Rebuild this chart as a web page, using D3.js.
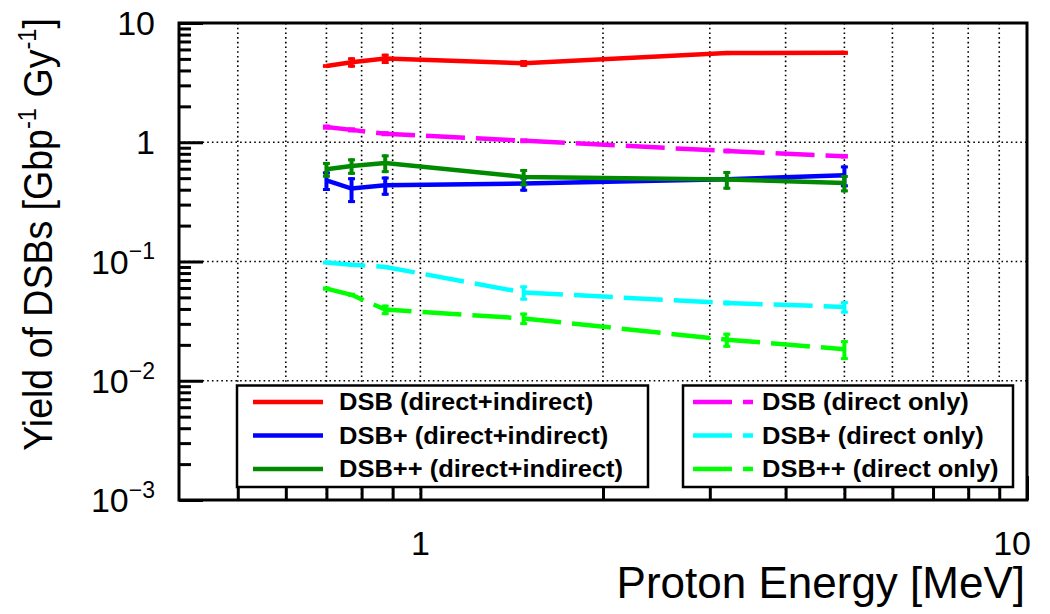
<!DOCTYPE html>
<html>
<head>
<meta charset="utf-8">
<script src="https://cdn.jsdelivr.net/npm/d3@7"></script>
<style>
  body { margin: 0; background: #fff; }
  text { font-family: "Liberation Sans", Arial, sans-serif; }
</style>
</head>
<body>
<div id="chart"></div>
<script>
// proton energies [MeV]
var energy = [0.7, 0.77, 0.875, 1.48, 3.2, 5.0];

// yields [Gbp^-1 Gy^-1]
var dsbTotal      = [4.36, 4.69, 5.03, 4.59, 5.60, 5.62];
var dsbTotalErr   = [0.10, 0.47, 0.50, 0.30, 0.10, 0.10];
var dsbpTotal     = [0.480, 0.409, 0.436, 0.450, 0.490, 0.529];
var dsbpTotalErr  = [0.090, 0.100, 0.080, 0.065, 0.020, 0.110];
var dsbppTotal    = [0.594, 0.633, 0.671, 0.512, 0.487, 0.456];
var dsbppTotalErr = [0.090, 0.100, 0.120, 0.085, 0.087, 0.076];

var dsbDirect      = [1.34, 1.27, 1.18, 1.03, 0.845, 0.763];
var dsbDirectErr   = [0.01, 0.01, 0.01, 0.01, 0.01, 0.01];
var dsbpDirect     = [0.098, 0.094, 0.090, 0.055, 0.0449, 0.0416];
var dsbpDirectErr  = [0.002, 0.002, 0.002, 0.008, 0.002, 0.005];
var dsbppDirect    = [0.0593, 0.0526, 0.0395, 0.0333, 0.0221, 0.0184];
var dsbppDirectErr = [0.001, 0.001, 0.004, 0.004, 0.0032, 0.0035];

var leftLabels  = ["DSB (direct+indirect)", "DSB+ (direct+indirect)", "DSB++ (direct+indirect)"];
var rightLabels = ["DSB (direct only)", "DSB+ (direct only)", "DSB++ (direct only)"];

var yMajor = [0.001, 0.01, 0.1, 1, 10];
var yExp   = [-3, -2, -1, 0, 1];
var xMajor = [1, 10];

var series = [
  { v: dsbTotal,    e: dsbTotalErr,    color: "#ff0000", dash: null },
  { v: dsbpTotal,   e: dsbpTotalErr,   color: "#0000ff", dash: null },
  { v: dsbppTotal,  e: dsbppTotalErr,  color: "#008a00", dash: null },
  { v: dsbDirect,   e: dsbDirectErr,   color: "#ff00ff", dash: "39,11" },
  { v: dsbpDirect,  e: dsbpDirectErr,  color: "#00ffff", dash: "39,11" },
  { v: dsbppDirect, e: dsbppDirectErr, color: "#00ff00", dash: "39,11" }
];

var W = 1050, H = 614;
var L = 179, R = 1027, T = 23, B = 500;

var svg = d3.select("#chart").append("svg")
  .attr("width", W)
  .attr("height", H);

var x = d3.scaleLog().domain([0.4, 10]).range([L, R]);
var y = d3.scaleLog().domain([0.001, 10]).range([B, T]);

// minor tick values per decade
var xMinor = [], yMinor = [];
[0.1, 1].forEach(function(d){
  for (var k = 2; k <= 9; k++) { var v = d * k; if (v > 0.4 && v < 10) xMinor.push(v); }
});
[0.001, 0.01, 0.1, 1].forEach(function(d){
  for (var k = 2; k <= 9; k++) yMinor.push(d * k);
});

//grid
var grid = svg.append("g")
  .attr("stroke", "#000")
  .attr("stroke-width", 1.6)
  .attr("stroke-dasharray", "1.6,3.1");
grid.selectAll("line.vx")
  .data(xMinor.concat([1]))
  .enter().append("line")
  .attr("x1", function(d){ return x(d); })
  .attr("x2", function(d){ return x(d); })
  .attr("y1", T).attr("y2", B);
grid.selectAll("line.hy")
  .data([0.01, 0.1, 1])
  .enter().append("line")
  .attr("y1", function(d){ return y(d); })
  .attr("y2", function(d){ return y(d); })
  .attr("x1", L).attr("x2", R);

// lines
var line = d3.line()
  .x(function(d, i){ return x(energy[i]); })
  .y(function(d){ return y(d); });

series.forEach(function(s){
  svg.append("path")
    .attr("d", line(s.v))
    .attr("fill", "none")
    .attr("stroke", s.color)
    .attr("stroke-width", 4.5)
    .attr("stroke-dasharray", s.dash);

  var eb = svg.append("g").attr("stroke", s.color);
  eb.selectAll("line.bar")
    .data(s.v)
    .enter().append("line")
    .attr("stroke-width", 4)
    .attr("x1", function(d, i){ return x(energy[i]); })
    .attr("x2", function(d, i){ return x(energy[i]); })
    .attr("y1", function(d, i){ return y(d + s.e[i]); })
    .attr("y2", function(d, i){ return y(d - s.e[i]); });
  [1, -1].forEach(function(sg){
    eb.selectAll("line.cap" + sg)
      .data(s.v)
      .enter().append("line")
      .attr("stroke-width", 3)
      .attr("x1", function(d, i){ return x(energy[i]) - 3.5; })
      .attr("x2", function(d, i){ return x(energy[i]) + 3.5; })
      .attr("y1", function(d, i){ return y(d + sg * s.e[i]) + sg * 1.5; })
      .attr("y2", function(d, i){ return y(d + sg * s.e[i]) + sg * 1.5; });
  });
});

// axes ticks (inside the frame)
function styleAxis(g){
  g.select(".domain").remove();
  g.selectAll(".tick line").attr("stroke", "#000").attr("stroke-width", 3);
}
svg.append("g").attr("transform", "translate(" + L + ",0)")
  .call(d3.axisRight(y).tickValues(yMajor).tickSize(24).tickFormat(""))
  .call(styleAxis);
svg.append("g").attr("transform", "translate(" + L + ",0)")
  .call(d3.axisRight(y).tickValues(yMinor).tickSize(12).tickFormat(""))
  .call(styleAxis);
svg.append("g").attr("transform", "translate(0," + B + ")")
  .call(d3.axisTop(x).tickValues(xMajor).tickSize(24).tickFormat(""))
  .call(styleAxis);
svg.append("g").attr("transform", "translate(0," + B + ")")
  .call(d3.axisTop(x).tickValues(xMinor).tickSize(12).tickFormat(""))
  .call(styleAxis);

// tick labels
var yl = svg.append("g").attr("font-size", 34).attr("text-anchor", "end");
yMajor.forEach(function(v, i){
  var t = yl.append("text")
    .attr("x", 155)
    .attr("y", y(v))
    .attr("dy", "0.36em");
  if (yExp[i] >= 0) {
    t.text(yExp[i] === 0 ? "1" : "10");
  } else {
    t.append("tspan").text("10");
    t.append("tspan").attr("font-size", 23).attr("dy", "-0.62em").text("\u2212" + (-yExp[i]));
  }
});
svg.append("g").attr("font-size", 34)
  .selectAll("text")
  .data(xMajor)
  .enter().append("text")
  .attr("x", function(d){ return d === 10 ? x(d) + 4 : x(d); })
  .attr("y", 555)
  .attr("text-anchor", function(d){ return d === 10 ? "end" : "middle"; })
  .text(function(d){ return d; });

// axis titles
svg.append("text")
  .attr("x", 1025)
  .attr("y", 598)
  .attr("text-anchor", "end")
  .attr("font-size", 44)
  .text("Proton Energy [MeV]");

var yt = svg.append("text")
  .attr("transform", "translate(52,18) rotate(-90) scale(0.915,1)")
  .attr("text-anchor", "end")
  .attr("font-size", 41);
yt.append("tspan").text("Yield of DSBs [Gbp");
yt.append("tspan").attr("font-size", 26).attr("dy", -16).text("-1");
yt.append("tspan").attr("dy", 16).text(" Gy");
yt.append("tspan").attr("font-size", 26).attr("dy", -16).text("-1");
yt.append("tspan").attr("dy", 16).text("]");

// frame
svg.append("rect")
  .attr("x", L).attr("y", T)
  .attr("width", R - L).attr("height", B - T)
  .attr("fill", "none")
  .attr("stroke", "#000")
  .attr("stroke-width", 3);

// legends
var rowY = [402, 435.5, 469];
function legend(x0, x1, labels, items, s0, s1, tx){
  var g = svg.append("g");
  g.append("rect")
    .attr("x", x0).attr("y", 385.5)
    .attr("width", x1 - x0).attr("height", 101.5)
    .attr("fill", "#fff")
    .attr("stroke", "#000")
    .attr("stroke-width", 2.5);
  items.forEach(function(s, i){
    g.append("line")
      .attr("x1", s0).attr("x2", s1)
      .attr("y1", rowY[i]).attr("y2", rowY[i])
      .attr("stroke", s.color)
      .attr("stroke-width", 4.5)
      .attr("stroke-dasharray", s.dash);
    var t = g.append("text")
      .attr("x", tx)
      .attr("y", rowY[i])
      .attr("dy", "0.36em")
      .attr("font-size", 23.5)
      .attr("font-weight", "bold")
      .text(labels[i]);
    // the original legend font runs a little wider
    var w = t.node().getComputedTextLength();
    t.attr("textLength", w * 1.085).attr("lengthAdjust", "spacingAndGlyphs");
  });
}
legend(237, 648, leftLabels, series.slice(0, 3), 253, 323, 339);
legend(683, 1013, rightLabels, series.slice(3), 693, 753, 762);
</script>
</body>
</html>
